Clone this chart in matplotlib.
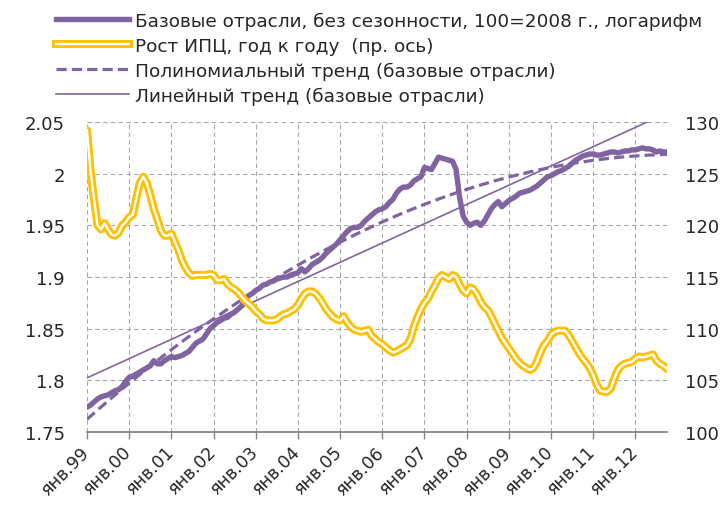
import numpy as np
import matplotlib
matplotlib.use("Agg")
import matplotlib.pyplot as plt
from matplotlib.lines import Line2D
from matplotlib.legend_handler import HandlerTuple

# ---------------- data (monthly, Jan 1999 .. Oct 2012) ----------------
base_industries = [
    1.774, 1.776, 1.779, 1.782, 1.784, 1.785, 1.786, 1.788, 1.790, 1.791, 1.794, 1.799,
    1.803, 1.804, 1.806, 1.808, 1.810, 1.812, 1.814, 1.819, 1.816, 1.816, 1.819, 1.821,
    1.823, 1.822, 1.823, 1.824, 1.826, 1.828, 1.832, 1.836, 1.838, 1.840, 1.845, 1.850,
    1.853, 1.856, 1.858, 1.860, 1.861, 1.864, 1.866, 1.869, 1.872, 1.879, 1.882, 1.884,
    1.887, 1.889, 1.892, 1.893, 1.895, 1.896, 1.898, 1.899, 1.900, 1.900, 1.902, 1.903,
    1.904, 1.908, 1.905, 1.908, 1.912, 1.914, 1.916, 1.919, 1.923, 1.926, 1.929, 1.932,
    1.936, 1.940, 1.944, 1.947, 1.948, 1.948, 1.950, 1.954, 1.957, 1.960, 1.963, 1.965,
    1.966, 1.968, 1.972, 1.975, 1.981, 1.985, 1.987, 1.987, 1.989, 1.993, 1.995, 1.997,
    2.006, 2.005, 2.004, 2.010, 2.016, 2.015, 2.014, 2.013, 2.012, 2.004, 1.977, 1.959,
    1.953, 1.950, 1.952, 1.953, 1.950, 1.954, 1.960, 1.966, 1.970, 1.973, 1.968, 1.971,
    1.974, 1.976, 1.978, 1.981, 1.982, 1.983, 1.984, 1.986, 1.988, 1.991, 1.994, 1.997,
    1.998, 2.000, 2.002, 2.003, 2.005, 2.007, 2.010, 2.013, 2.015, 2.017, 2.018, 2.019,
    2.019, 2.018, 2.018, 2.019, 2.020, 2.021, 2.021, 2.020, 2.021, 2.022, 2.022, 2.023,
    2.023, 2.024, 2.025, 2.024, 2.024, 2.023, 2.021, 2.022, 2.021, 2.021,
]

cpi_yoy = [
    129.2, 125.3, 122.5, 120.0, 119.6, 120.2, 119.6, 119.1, 119.0, 119.3, 120.0, 120.3,
    120.8, 121.0, 122.6, 124.1, 124.7, 124.1, 122.9, 121.6, 120.6, 119.5, 119.0, 119.0,
    119.2, 118.4, 117.6, 116.6, 115.9, 115.4, 115.1, 115.2, 115.2, 115.2, 115.2, 115.3,
    115.2, 114.7, 114.7, 114.8, 114.3, 114.0, 113.8, 113.5, 113.1, 112.7, 112.4, 112.1,
    111.7, 111.4, 111.0, 110.8, 110.8, 110.8, 110.9, 111.2, 111.4, 111.5, 111.7, 111.9,
    112.3, 112.9, 113.4, 113.6, 113.6, 113.4, 113.0, 112.5, 111.9, 111.5, 111.1, 110.9,
    110.8, 111.2, 110.6, 110.2, 109.9, 109.8, 109.7, 109.8, 109.9, 109.3, 109.0, 108.7,
    108.5, 108.2, 107.9, 107.7, 107.8, 108.0, 108.2, 108.4, 109.0, 110.2, 111.1, 111.9,
    112.5, 112.9, 113.6, 114.2, 114.9, 115.2, 115.0, 114.8, 115.2, 115.0, 114.3, 113.7,
    113.4, 114.0, 113.8, 113.3, 112.6, 112.1, 111.8, 111.2, 110.5, 109.8, 109.1, 108.6,
    108.1, 107.6, 107.1, 106.7, 106.4, 106.2, 106.0, 106.2, 106.8, 107.7, 108.4, 108.8,
    109.4, 109.7, 109.8, 109.8, 109.8, 109.4, 108.8, 108.2, 107.6, 107.1, 106.7, 106.2,
    105.5, 104.6, 104.0, 103.9, 103.9, 104.2, 105.2, 106.0, 106.4, 106.6, 106.7, 106.8,
    107.1, 107.3, 107.2, 107.3, 107.4, 107.5, 106.9, 106.6, 106.4, 106.1,
]

xtick_labels = ['янв.99', 'янв.00', 'янв.01', 'янв.02', 'янв.03', 'янв.04', 'янв.05',
                'янв.06', 'янв.07', 'янв.08', 'янв.09', 'янв.10', 'янв.11', 'янв.12']

legend_labels = [
    'Базовые отрасли, без сезонности, 100=2008 г., логарифм',
    'Рост ИПЦ, год к году  (пр. ось)',
    'Полиномиальный тренд (базовые отрасли)',
    'Линейный тренд (базовые отрасли)',
]

# ---------------- styling ----------------
plt.rcParams['font.family'] = ['DejaVu Sans']
PURPLE = '#8064A2'
YELLOW = '#FFC000'
GRID = '#A6A6A6'
TXT = '#262626'

fig = plt.figure(figsize=(7.25, 5.06), dpi=100)
ax1 = fig.add_axes([87 / 725, 1 - 433 / 506, 580 / 725, 310 / 506])
ax2 = ax1.twinx()

x = np.arange(len(base_industries))
y = np.array(base_industries)

# trend lines fitted to the series (as Excel trendlines)
lin = np.polyval(np.polyfit(x, y, 1), x)
poly = np.polyval(np.polyfit(x, y, 2), x)

ax1.plot(x, y, color=PURPLE, lw=3.9, solid_capstyle='round', solid_joinstyle='round', zorder=3)
ax1.plot(x, poly, color=PURPLE, lw=2.3, linestyle=(0, (3.2, 1.6)), zorder=3)
ax1.plot(x, lin, color=PURPLE, lw=1.2, zorder=3)

ax2.plot(x, cpi_yoy, color=YELLOW, lw=5.8, solid_joinstyle='round', solid_capstyle='round', zorder=3)
ax2.plot(x, cpi_yoy, color='white', lw=1.7, solid_joinstyle='round', zorder=4)

ax1.set_xlim(0, len(base_industries) - 1)
ax1.set_ylim(1.75, 2.05)
ax2.set_ylim(100, 130)
yt = np.round(np.arange(1.75, 2.0501, 0.05), 2)
ax1.set_yticks(yt)
ax1.set_yticklabels([f'{v:g}' for v in yt])
ax2.set_yticks(np.arange(100, 131, 5))

ticks = np.arange(0, len(base_industries), 12)
ax1.set_xticks(ticks)
ax1.set_xticklabels(xtick_labels, rotation=45, ha='right', va='center', rotation_mode='anchor')

for ax in (ax1, ax2):
    for s in ('top', 'left', 'right', 'bottom'):
        ax.spines[s].set_visible(False)
ax1.spines['bottom'].set_visible(True)
ax1.spines['bottom'].set_color('#868686')
ax1.spines['bottom'].set_linewidth(1.3)

ax1.grid(True, color=GRID, linestyle=(0, (4, 3)), linewidth=0.8)
ax1.set_axisbelow(True)
ax1.tick_params(axis='x', length=5, color='#868686', width=1, labelsize=12.5, labelcolor=TXT, pad=7)
ax1.tick_params(axis='y', length=0, labelsize=13, labelcolor=TXT, pad=16)
ax2.tick_params(axis='y', length=0, labelsize=13, labelcolor=TXT, pad=13)

h1 = Line2D([], [], color=PURPLE, lw=3.9)
h2a = Line2D([], [], color=YELLOW, lw=5.8)
h2b = Line2D([], [], color='white', lw=1.7)
h3 = Line2D([], [], color=PURPLE, lw=2.3, linestyle=(0, (3.2, 1.6)))
h4 = Line2D([], [], color=PURPLE, lw=1.2)
fig.legend([h1, (h2a, h2b), h3, h4], legend_labels,
           handler_map={tuple: HandlerTuple(ndivide=1)},
           loc='upper left', bbox_to_anchor=(0.0676, 0.99), frameon=False,
           fontsize=13.3, handlelength=3.95, handletextpad=0.3, labelspacing=0.37,
           labelcolor=TXT, borderaxespad=0)

fig.savefig('out.png', dpi=100)
